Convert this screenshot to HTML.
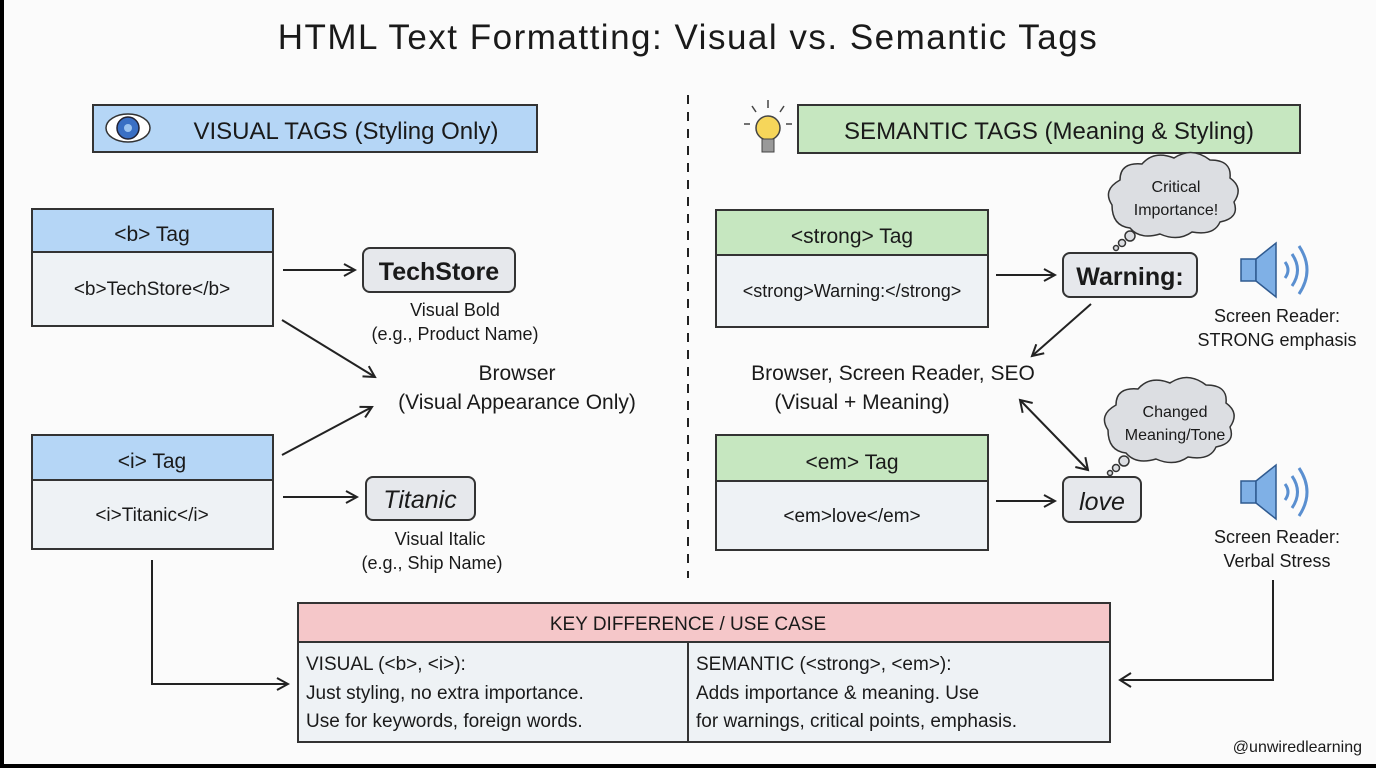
<!DOCTYPE html>
<html><head><meta charset="utf-8"><style>
html,body{margin:0;padding:0;background:#000;}
svg{display:block}
text{font-family:"Liberation Sans",sans-serif;fill:#1a1a1a}
</style></head><body>
<svg width="1376" height="768" viewBox="0 0 1376 768" xmlns="http://www.w3.org/2000/svg">
<defs>
<marker id="a" markerWidth="14" markerHeight="14" refX="12" refY="7" orient="auto" markerUnits="userSpaceOnUse">
<path d="M1,1 L12,7 L1,13" fill="none" stroke="#222" stroke-width="2"/></marker>
<marker id="as" markerWidth="20" markerHeight="20" refX="12" refY="10" orient="auto-start-reverse" markerUnits="userSpaceOnUse">
<path d="M1,3 L12,10 L1,17" fill="none" stroke="#222" stroke-width="2"/></marker>
</defs>
<rect x="4" y="0" width="1372" height="764" fill="#fbfbfb"/>
<text x="688" y="49" font-size="35" text-anchor="middle" letter-spacing="1.5">HTML Text Formatting: Visual vs. Semantic Tags</text>
<line x1="688" y1="95" x2="688" y2="578" stroke="#222" stroke-width="2" stroke-dasharray="9,8"/>

<rect x="93" y="105" width="444" height="47" fill="#b5d6f6" stroke="#333" stroke-width="2"/>
<ellipse cx="128" cy="128" rx="22" ry="14" fill="#fff" stroke="#333" stroke-width="1.5"/>
<circle cx="128" cy="128" r="11" fill="#3a6fc4" stroke="#223" stroke-width="1.5"/>
<circle cx="128" cy="128" r="4" fill="#9cc3f0"/>
<text x="346" y="139" font-size="24" text-anchor="middle">VISUAL TAGS (Styling Only)</text>

<rect x="798" y="105" width="502" height="48" fill="#c6e7c0" stroke="#333" stroke-width="2"/>
<text x="1049" y="139" font-size="24" text-anchor="middle">SEMANTIC TAGS (Meaning &amp; Styling)</text>
<circle cx="768" cy="128" r="12" fill="#f6d65a" stroke="#444" stroke-width="1.5"/>
<rect x="762" y="139" width="12" height="13" fill="#999" stroke="#444"/>
<g stroke="#444" stroke-width="1.5"><line x1="768" y1="100" x2="768" y2="108"/><line x1="752" y1="106" x2="756" y2="112"/><line x1="784" y1="106" x2="780" y2="112"/><line x1="744" y1="124" x2="750" y2="124"/><line x1="786" y1="124" x2="792" y2="124"/></g>

<g stroke="#333" stroke-width="2">
<rect x="32" y="209" width="241" height="117" fill="#eef2f5"/>
<rect x="32" y="209" width="241" height="43" fill="#b5d6f6"/>
<rect x="32" y="435" width="241" height="114" fill="#eef2f5"/>
<rect x="32" y="435" width="241" height="45" fill="#b5d6f6"/>
<rect x="716" y="210" width="272" height="117" fill="#eef2f5"/>
<rect x="716" y="210" width="272" height="45" fill="#c6e7c0"/>
<rect x="716" y="435" width="272" height="115" fill="#eef2f5"/>
<rect x="716" y="435" width="272" height="46" fill="#c6e7c0"/>
</g>
<text x="152" y="241" font-size="21" text-anchor="middle">&lt;b&gt; Tag</text>
<text x="152" y="295" font-size="19" text-anchor="middle">&lt;b&gt;TechStore&lt;/b&gt;</text>
<text x="152" y="468" font-size="21" text-anchor="middle">&lt;i&gt; Tag</text>
<text x="152" y="521" font-size="19" text-anchor="middle">&lt;i&gt;Titanic&lt;/i&gt;</text>
<text x="852" y="243" font-size="21" text-anchor="middle">&lt;strong&gt; Tag</text>
<text x="852" y="297" font-size="18" text-anchor="middle">&lt;strong&gt;Warning:&lt;/strong&gt;</text>
<text x="852" y="469" font-size="21" text-anchor="middle">&lt;em&gt; Tag</text>
<text x="852" y="522" font-size="19" text-anchor="middle">&lt;em&gt;love&lt;/em&gt;</text>

<g stroke="#333" stroke-width="2" fill="#e6e8ec">
<rect x="363" y="248" width="152" height="44" rx="7"/>
<rect x="366" y="477" width="109" height="43" rx="7"/>
<rect x="1063" y="253" width="134" height="44" rx="7"/>
<rect x="1063" y="477" width="78" height="45" rx="7"/>
</g>
<text x="439" y="280" font-size="25" font-weight="bold" text-anchor="middle">TechStore</text>
<text x="420" y="508" font-size="25" font-style="italic" text-anchor="middle">Titanic</text>
<text x="1130" y="285" font-size="25" font-weight="bold" text-anchor="middle">Warning:</text>
<text x="1102" y="510" font-size="25" font-style="italic" text-anchor="middle">love</text>

<g font-size="18" text-anchor="middle">
<text x="455" y="316">Visual Bold</text>
<text x="455" y="340">(e.g., Product Name)</text>
<text x="440" y="545">Visual Italic</text>
<text x="432" y="569">(e.g., Ship Name)</text>
<text x="1277" y="322">Screen Reader:</text>
<text x="1277" y="346">STRONG emphasis</text>
<text x="1277" y="543">Screen Reader:</text>
<text x="1277" y="567">Verbal Stress</text>
</g>
<g font-size="21" text-anchor="middle">
<text x="517" y="380">Browser</text>
<text x="517" y="409">(Visual Appearance Only)</text>
<text x="893" y="380">Browser, Screen Reader, SEO</text>
<text x="862" y="409">(Visual + Meaning)</text>
</g>

<g stroke="#222" stroke-width="2" fill="none">
<line x1="283" y1="270" x2="355" y2="270" marker-end="url(#a)"/>
<line x1="283" y1="497" x2="357" y2="497" marker-end="url(#a)"/>
<line x1="282" y1="320" x2="375" y2="377" marker-end="url(#a)"/>
<line x1="282" y1="455" x2="372" y2="407" marker-end="url(#a)"/>
<line x1="996" y1="275" x2="1055" y2="275" marker-end="url(#a)"/>
<line x1="996" y1="501" x2="1055" y2="501" marker-end="url(#a)"/>
<line x1="1091" y1="304" x2="1032" y2="356" marker-end="url(#a)"/>
<line x1="1020" y1="400" x2="1088" y2="470" marker-start="url(#as)" marker-end="url(#as)"/>
<polyline points="152,560 152,684 288,684" marker-end="url(#a)"/>
<polyline points="1273,580 1273,680 1120,680" marker-end="url(#as)"/>
</g>

<g fill="#dcdee2" stroke="#333" stroke-width="1.5">
<path d="M1112,205 q-10,-15 8,-25 q0,-18 22,-16 q12,-14 32,-6 q18,-12 36,2 q22,0 20,18 q14,10 4,24 q6,16 -14,20 q-6,14 -28,10 q-14,10 -32,2 q-20,6 -30,-6 q-18,-2 -18,-23z"/>
<path d="M1108,430 q-10,-15 8,-25 q0,-18 22,-16 q12,-14 32,-6 q18,-12 36,2 q22,0 20,18 q14,10 4,24 q6,16 -14,20 q-6,14 -28,10 q-14,10 -32,2 q-20,6 -30,-6 q-18,-2 -18,-23z"/>
<circle cx="1130" cy="236" r="5"/><circle cx="1122" cy="243" r="3.5"/><circle cx="1116" cy="248" r="2.5"/>
<circle cx="1124" cy="461" r="5"/><circle cx="1116" cy="468" r="3.5"/><circle cx="1110" cy="473" r="2.5"/>
</g>
<g font-size="16" text-anchor="middle">
<text x="1176" y="192">Critical</text>
<text x="1176" y="215">Importance!</text>
<text x="1175" y="417">Changed</text>
<text x="1175" y="440">Meaning/Tone</text>
</g>

<g fill="#7fb0e6" stroke="#2f5a90" stroke-width="1.5">
<rect x="1241" y="259" width="15" height="22"/>
<path d="M1256,259 L1276,243 L1276,297 L1256,281Z"/>
<rect x="1241" y="481" width="15" height="22"/>
<path d="M1256,481 L1276,465 L1276,519 L1256,503Z"/>
</g>
<g fill="none" stroke="#5a8fd0" stroke-width="3">
<path d="M1285,262 q6,8 0,16"/><path d="M1292,254 q11,16 0,32"/><path d="M1299,246 q16,24 0,48"/>
<path d="M1285,484 q6,8 0,16"/><path d="M1292,476 q11,16 0,32"/><path d="M1299,468 q16,24 0,48"/>
</g>

<g stroke="#333" stroke-width="2">
<rect x="298" y="603" width="812" height="139" fill="#eef2f5"/>
<rect x="298" y="603" width="812" height="39" fill="#f5c7c9"/>
<line x1="688" y1="642" x2="688" y2="742"/>
</g>
<text x="688" y="630" font-size="19" text-anchor="middle">KEY DIFFERENCE / USE CASE</text>
<g font-size="19">
<text x="306" y="670">VISUAL (&lt;b&gt;, &lt;i&gt;):</text>
<text x="306" y="699">Just styling, no extra importance.</text>
<text x="306" y="727">Use for keywords, foreign words.</text>
<text x="696" y="670">SEMANTIC (&lt;strong&gt;, &lt;em&gt;):</text>
<text x="696" y="699">Adds importance &amp; meaning. Use</text>
<text x="696" y="727">for warnings, critical points, emphasis.</text>
</g>
<text x="1362" y="752" font-size="16" text-anchor="end">@unwiredlearning</text>
</svg>
</body></html>
